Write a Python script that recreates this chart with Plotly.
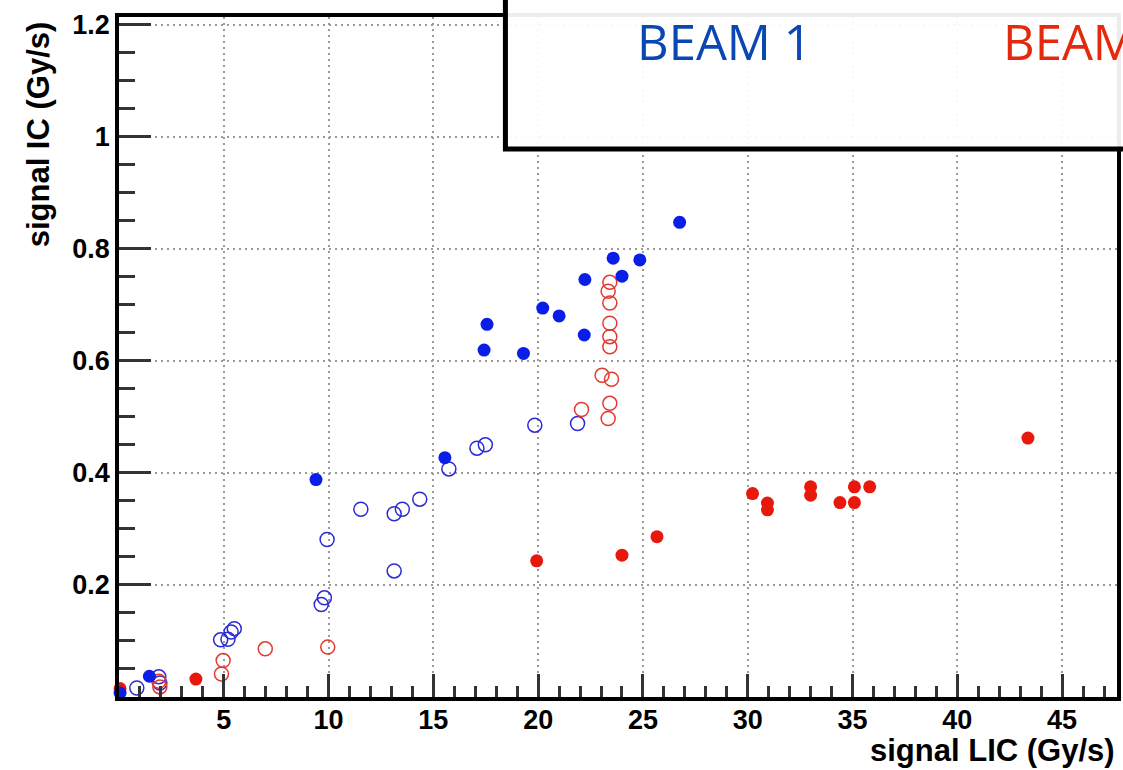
import plotly.graph_objects as go

# ---- data ----
beam1_filled_x = [0.05, 1.45, 9.4, 15.55, 17.42, 17.56, 19.3, 20.22, 21.0, 22.2, 22.23, 23.58, 24.0, 24.85, 26.75]
beam1_filled_y = [0.007, 0.037, 0.388, 0.427, 0.619, 0.665, 0.613, 0.694, 0.680, 0.646, 0.745, 0.783, 0.751, 0.780, 0.847]

beam1_open_x = [0.85, 1.9, 1.95, 4.85, 5.2, 5.35, 5.5, 9.65, 9.8, 9.93, 11.54, 13.13, 13.13, 13.52, 14.35, 15.74, 17.08, 17.48, 19.84, 21.88]
beam1_open_y = [0.016, 0.036, 0.025, 0.102, 0.103, 0.116, 0.122, 0.165, 0.177, 0.281, 0.335, 0.225, 0.327, 0.335, 0.353, 0.407, 0.444, 0.450, 0.485, 0.488]

beam2_filled_x = [0.05, 3.67, 19.93, 24.0, 25.67, 30.23, 30.94, 30.94, 33.0, 33.0, 34.4, 35.09, 35.09, 35.82, 43.37]
beam2_filled_y = [0.015, 0.032, 0.243, 0.253, 0.286, 0.363, 0.346, 0.334, 0.375, 0.360, 0.347, 0.375, 0.347, 0.375, 0.462]

beam2_open_x = [1.9, 1.95, 4.89, 4.97, 6.98, 9.96, 22.07, 23.05, 23.34, 23.42, 23.42, 23.42, 23.42, 23.42, 23.34, 23.42, 23.5]
beam2_open_y = [0.028, 0.018, 0.041, 0.065, 0.086, 0.089, 0.513, 0.574, 0.497, 0.524, 0.625, 0.643, 0.667, 0.703, 0.724, 0.740, 0.567]

x_tick_vals = [5, 10, 15, 20, 25, 30, 35, 40, 45]
y_tick_vals = [0.2, 0.4, 0.6, 0.8, 1.0, 1.2]
y_tick_text = ["0.2", "0.4", "0.6", "0.8", "1", "1.2"]

x_title = "signal LIC (Gy/s)"
y_title = "signal IC (Gy/s)"
legend_labels = ["BEAM 1", "BEAM 2"]

BLUE = "#0a1ee8"
RED = "#e8190c"

fig = go.Figure()
fig.add_trace(go.Scatter(x=beam1_open_x, y=beam1_open_y, mode="markers", cliponaxis=False,
                         marker=dict(symbol="circle-open", size=14, color="#2a2ad6", line=dict(width=1.5))))
fig.add_trace(go.Scatter(x=beam2_open_x, y=beam2_open_y, mode="markers", cliponaxis=False,
                         marker=dict(symbol="circle-open", size=14, color="#e23a30", line=dict(width=1.5))))
fig.add_trace(go.Scatter(x=beam2_filled_x, y=beam2_filled_y, mode="markers", cliponaxis=False,
                         marker=dict(symbol="circle", size=13, color=RED)))
fig.add_trace(go.Scatter(x=beam1_filled_x, y=beam1_filled_y, mode="markers", cliponaxis=False,
                         marker=dict(symbol="circle", size=13, color=BLUE)))

tickfont = dict(family="Liberation Sans, Arial", size=27, color="black", weight="bold")
x_minor = [i for i in range(1, 48) if i % 5 != 0]
y_minor = [round(0.05 * i, 2) for i in range(1, 25) if i % 4 != 0]

fig.update_xaxes(range=[0, 47.62], tickmode="array", tickvals=x_tick_vals,
                 ticks="inside", ticklen=23, tickwidth=3, tickcolor="#333",
                 showline=True, linecolor="black", linewidth=3.5, mirror=True,
                 showgrid=True, gridcolor="#9a9a9a", gridwidth=1.5, griddash="2px,4px",
                 zeroline=False, tickfont=tickfont, ticklabelstandoff=-4,
                 minor=dict(tickmode="array", tickvals=x_minor, ticks="inside", ticklen=11,
                            tickwidth=2.5, tickcolor="#333", showgrid=False))
fig.update_yaxes(range=[0, 1.2134], tickmode="array", tickvals=y_tick_vals, ticktext=y_tick_text,
                 ticks="inside", ticklen=32, tickwidth=3, tickcolor="#333",
                 showline=True, linecolor="black", linewidth=3.5, mirror=True,
                 showgrid=True, gridcolor="#9a9a9a", gridwidth=1.5, griddash="2px,4px",
                 zeroline=False, tickfont=tickfont,
                 minor=dict(tickmode="array", tickvals=y_minor, ticks="inside", ticklen=16,
                            tickwidth=2.5, tickcolor="#333", showgrid=False))

titlefont = dict(family="Liberation Sans, Arial", size=31, color="black", weight="bold")

fig.update_layout(
    width=1123, height=770,
    margin=dict(l=119, r=2, t=17, b=73),
    plot_bgcolor="white", paper_bgcolor="white",
    showlegend=False,
    shapes=[dict(type="rect", xref="paper", yref="paper",
                 x0=0.3872, x1=1.08, y0=0.8059, y1=1.12,
                 line=dict(color="black", width=5),
                 fillcolor="rgba(255,255,255,0.93)", layer="above")],
    annotations=[
        dict(text=x_title, xref="paper", yref="paper", x=1.0, y=-0.079,
             xanchor="right", yanchor="middle", showarrow=False, font=titlefont),
        dict(text=y_title, xref="paper", yref="paper", x=-0.0798, y=0.828,
             xanchor="center", yanchor="middle", textangle=-90, showarrow=False, font=titlefont),
        dict(text=legend_labels[0], xref="paper", yref="paper", x=0.607, y=0.964,
             xanchor="center", yanchor="middle", showarrow=False,
             font=dict(family="Open Sans", size=49, color="#0a47b2")),
        dict(text=legend_labels[1], xref="paper", yref="paper", x=0.884, y=0.964,
             xanchor="left", yanchor="middle", showarrow=False,
             font=dict(family="Open Sans", size=49, color="#e4290c")),
    ],
)

fig.write_html("out.html")
